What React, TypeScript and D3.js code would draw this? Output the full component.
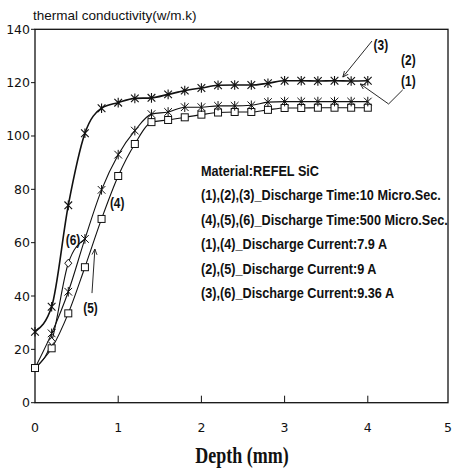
import React from "react";
import * as d3 from "d3";

// depth in mm, readings every 0.2 mm
const depth = [0, 0.2, 0.4, 0.6, 0.8, 1.0, 1.2, 1.4, 1.6, 1.8, 2.0, 2.2, 2.4, 2.6, 2.8, 3.0, 3.2, 3.4, 3.6, 3.8, 4.0];

// 10 micro sec curves (drawn as one, top)
const series3 = [26.6, 36, 74, 101, 110.4, 112.5, 114.1, 114.3, 115.6, 117, 118, 119, 119.1, 119.1, 119.8, 120.7, 120.7, 120.6, 120.7, 120.6, 120.7];
// 500 micro sec curves
const series4 = [13, 26, 41.6, 61.4, 79.8, 93, 102, 108.2, 109, 110.8, 110.8, 111.3, 111.3, 111.5, 112.7, 112.9, 112.9, 112.9, 112.9, 112.9, 112.9];
const series5 = [13, 20.4, 33.5, 50.8, 68.9, 85, 97, 105.2, 106, 107, 108, 108.8, 109, 109, 109.8, 110.5, 110.5, 110.6, 110.6, 110.6, 110.6];
const depth6 = [0, 0.2, 0.4, 0.6];
const series6 = [13, 23, 52.3, 61.4];

const xTicks = [0, 1, 2, 3, 4, 5];
const yTicks = [0, 20, 40, 60, 80, 100, 120, 140];

const legendLines = [
  "Material:REFEL SiC",
  "(1),(2),(3)_Discharge Time:10 Micro.Sec.",
  "(4),(5),(6)_Discharge Time:500 Micro.Sec.",
  "(1),(4)_Discharge Current:7.9 A",
  "(2),(5)_Discharge Current:9 A",
  "(3),(6)_Discharge Current:9.36 A",
];

// curve labels, in data units
const curveLabels = [
  { text: "(3)", d: 4.07, v: 134.1 },
  { text: "(2)", d: 4.4, v: 128.5 },
  { text: "(1)", d: 4.4, v: 120.4 },
  { text: "(4)", d: 0.9, v: 74.9 },
  { text: "(6)", d: 0.37, v: 61 },
  { text: "(5)", d: 0.58, v: 35.5 },
];

// leader lines, arrow at the end
const leaders = [
  [[4.05, 135.6], [3.7, 122.1]],
  [[4.42, 117.3], [4.25, 112], [3.91, 119.5]],
  [[0.685, 41.1], [0.72, 57.6]],
];

const W = 453;
const H = 472;
const left = 35;
const top = 29.3;
const bottom = 402.7;
const right = 448;

const x = d3.scaleLinear().domain([0, 5]).range([left, 451]);
const y = d3.scaleLinear().domain([0, 140]).range([bottom, top]);

const line = d3
  .line<[number, number]>()
  .x((d) => x(d[0]))
  .y((d) => y(d[1]))
  .curve(d3.curveMonotoneX);

const star = (cx: number, cy: number, r = 4.8) =>
  `M${cx},${cy - r}V${cy + r}M${cx - r * 0.8},${cy - r * 0.8}L${cx + r * 0.8},${cy + r * 0.8}M${cx - r * 0.8},${cy + r * 0.8}L${cx + r * 0.8},${cy - r * 0.8}`;

// narrow bold look: squeeze Liberation Sans bold
const boldFont = "'Liberation Sans', Arial, sans-serif";

const App = () => {
  const p3 = depth.map((d, i) => [d, series3[i]] as [number, number]);
  const p4 = depth.map((d, i) => [d, series4[i]] as [number, number]);
  const p5 = depth.map((d, i) => [d, series5[i]] as [number, number]);
  const p6 = depth6.map((d, i) => [d, series6[i]] as [number, number]);

  return (
    <svg
      width={W}
      height={H}
      style={{ position: "absolute", left: 0, top: 0, background: "#fff" }}
    >
      <defs>
        <marker id="arr" viewBox="0 0 10 10" refX="9" refY="5" markerWidth="7" markerHeight="7" orient="auto">
          <path d="M0,1L9,5L0,9" fill="none" stroke="#111" strokeWidth="1.3" />
        </marker>
      </defs>

      {/* title */}
      <text x={33} y={20} fontFamily="'Liberation Sans', Arial, sans-serif" fontSize={13.5} fill="#111">
        thermal conductivity(w/m.k)
      </text>

      {/* frame */}
      <rect x={left} y={top} width={right - left} height={bottom - top} fill="none" stroke="#111" strokeWidth={1.3} />

      {/* y axis */}
      {yTicks.map((t) => (
        <g key={"y" + t}>
          <line x1={left - 4} x2={left} y1={y(t)} y2={y(t)} stroke="#111" strokeWidth={1} />
          <text x={left - 5} y={y(t)} dy="0.36em" textAnchor="end" fontFamily="'DejaVu Sans', sans-serif" fontSize={12.5} fill="#111">
            {t}
          </text>
        </g>
      ))}

      {/* x axis */}
      {xTicks.map((t) => (
        <g key={"x" + t}>
          {t > 0 && t < 5 && (
            <line x1={x(t)} x2={x(t)} y1={bottom} y2={bottom - 7} stroke="#111" strokeWidth={1} />
          )}
          <text x={Math.min(x(t), W - 5)} y={432} textAnchor="middle" fontFamily="'DejaVu Sans', sans-serif" fontSize={12.5} fill="#111">
            {t}
          </text>
        </g>
      ))}
      <text
        transform={`translate(${x(2.5) - 1},463) scale(1,1.25)`}
        textAnchor="middle"
        fontFamily="'Liberation Serif', serif"
        fontWeight="bold"
        fontSize={18}
        fill="#111"
      >
        Depth (mm)
      </text>

      {/* curves */}
      <g fill="none" stroke="#111">
        <path d={line(p3) ?? ""} strokeWidth={1.6} />
        <path d={line(p4) ?? ""} strokeWidth={1.1} />
        <path d={line(p5) ?? ""} strokeWidth={1.1} />
        <path d={line(p6) ?? ""} strokeWidth={1.1} />
      </g>

      {/* markers */}
      <g fill="#fff" stroke="#111" strokeWidth={1}>
        {p5.map((d, i) => (
          <rect key={"s" + i} x={x(d[0]) - 3.5} y={y(d[1]) - 3.5} width={7} height={7} />
        ))}
        {p6.slice(1, 3).map((d, i) => (
          <path
            key={"d" + i}
            d={`M${x(d[0])},${y(d[1]) - 4}L${x(d[0]) + 3.5},${y(d[1])}L${x(d[0])},${y(d[1]) + 4}L${x(d[0]) - 3.5},${y(d[1])}Z`}
          />
        ))}
        {p4.slice(1).map((d, i) => (
          <path key={"a4" + i} d={star(x(d[0]), y(d[1]))} fill="none" />
        ))}
        {p3.map((d, i) => (
          <path key={"a3" + i} d={star(x(d[0]), y(d[1]))} fill="none" strokeWidth={1.1} />
        ))}
      </g>

      {/* leaders */}
      <g fill="none" stroke="#111" strokeWidth={0.9}>
        {leaders.map((pts, i) => (
          <polyline
            key={"l" + i}
            points={pts.map((p) => `${x(p[0])},${y(p[1])}`).join(" ")}
            markerEnd="url(#arr)"
          />
        ))}
      </g>

      {/* curve labels */}
      {curveLabels.map((c) => (
        <text
          key={c.text}
          transform={`translate(${x(c.d)},${y(c.v)}) scale(0.85,1)`}
          dy="0.35em"
          fontFamily={boldFont}
          fontWeight="bold"
          fontSize={14}
          fill="#111"
        >
          {c.text}
        </text>
      ))}

      {/* legend text */}
      {legendLines.map((s, i) => (
        <text
          key={s}
          transform={`translate(201,${176 + i * 24.4}) scale(0.845,1)`}
          fontFamily={boldFont}
          fontWeight="bold"
          fontSize={15}
          fill="#111"
        >
          {s}
        </text>
      ))}
    </svg>
  );
};

export default App;
